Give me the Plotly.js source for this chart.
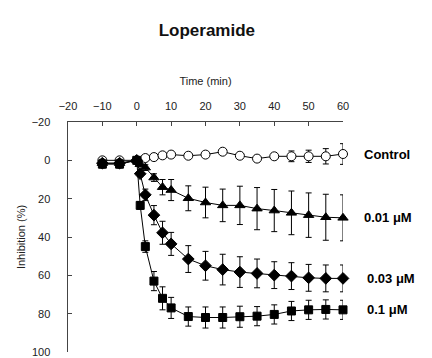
<!DOCTYPE html>
<html>
<head>
<meta charset="utf-8">
<script src="https://cdn.plot.ly/plotly-3.0.1.min.js"></script>
<style>html,body{margin:0;padding:0;background:#fff;}#chart{width:432px;height:358px;}</style>
</head>
<body>
<div id="chart"></div>
<script>
// Time points (min)
const timeControl = [-10, -5, 0, 2.5, 5, 7.5, 10, 15, 20, 25, 30, 35, 40, 45, 50, 55, 60];
const timeDrug    = [-10, -5, 0, 1, 2.5, 5, 7.5, 10, 15, 20, 25, 30, 35, 40, 45, 50, 55, 60];

// Inhibition (%) values
const control     = [0, 0, 0, -1.2, -1.7, -2.6, -3, -2.4, -3, -4.5, -2.4, -0.9, -2.1, -2.1, -2.1, -2.1, -3.3];
const controlErr  = [1.5, 1, 1, 0.8, 0.8, 0.8, 0.8, 0.8, 1, 1, 1, 1, 1.2, 2.8, 3.2, 4, 5.4];

const conc001     = [1.5, 1.5, 0, 2, 3.8, 9, 14, 15.5, 19.8, 22, 23.5, 23.5, 25.2, 26.2, 27.4, 28.6, 29.7, 30];
const conc001Err  = [2, 2, 1, 1.5, 1.5, 2, 4, 5.5, 6.5, 8, 8.5, 10, 11, 11, 11.4, 11.6, 12, 12];

const conc003     = [1.5, 1.5, 0, 7, 18, 28.6, 37.8, 43.6, 51.5, 55, 57, 58.3, 59, 59.9, 60.4, 61.3, 61.6, 61.6];
const conc003Err  = [2, 2, 1, 1.5, 3, 5, 6, 6, 7, 7.5, 8, 8, 7.5, 7, 7, 7, 7, 7];

const conc01      = [2, 2, 0, 23.5, 45, 63, 72, 77, 81.5, 82, 82, 81.6, 81.3, 80.4, 78.6, 78, 77.8, 78];
const conc01Err   = [2, 2, 1, 2, 3, 5, 6, 5.5, 5, 5.5, 5.5, 5.5, 5, 5, 5, 5, 5, 5];

const seriesLabels = ['Control', '0.01 \u03bcM', '0.03 \u03bcM', '0.1 \u03bcM'];

const xTicks = [-20, -10, 0, 10, 20, 30, 40, 50, 60];
const yTicks = [-20, 0, 20, 40, 60, 80, 100];

function trace(x, y, err, symbol, size, fill) {
  return {
    x: x, y: y, type: 'scatter', mode: 'lines+markers',
    line: {color: '#000', width: 1},
    marker: {symbol: symbol, size: size, color: fill, line: {color: '#000', width: 1}},
    error_y: {type: 'data', array: err, visible: true, color: '#000', thickness: 1, width: 3},
    showlegend: false, cliponaxis: false
  };
}

const data = [
  trace(timeControl, control, controlErr, 'circle', 9, '#fff'),
  trace(timeDrug, conc001, conc001Err, 'triangle-up', 9, '#000'),
  trace(timeDrug, conc003, conc003Err, 'diamond', 9, '#000'),
  trace(timeDrug, conc01, conc01Err, 'square', 8, '#000')
];

const lastVals = [control, conc001, conc003, conc01].map(a => a[a.length - 1]);
const annotations = seriesLabels.map((t, i) => ({
  text: t, xref: 'paper', yref: 'y', x: i === 0 || i === 1 ? 1.07 : 1.08, y: lastVals[i],
  xanchor: 'left', yanchor: 'middle', showarrow: false,
  font: {family: 'Liberation Sans, Arial, sans-serif', size: 13, color: '#000', weight: 'bold'}
}));

const layout = {
  width: 432, height: 358,
  margin: {l: 68, r: 89, t: 122, b: 6},
  paper_bgcolor: '#fff', plot_bgcolor: '#fff',
  title: {
    text: 'Loperamide', xref: 'paper', x: 0.505, xanchor: 'center',
    yref: 'container', y: 0.915, yanchor: 'middle',
    font: {family: 'Liberation Sans, Arial, sans-serif', size: 17, color: '#111', weight: 'bold'}
  },
  xaxis: {
    side: 'top', range: [-20, 60], tickvals: xTicks, ticktext: xTicks.map(v => v < 0 ? '\u2212' + Math.abs(v) : String(v)),
    ticks: 'inside', ticklen: 4, tickcolor: '#444', showline: true, linecolor: '#444', linewidth: 1.5,
    showgrid: false, zeroline: false, ticklabelstandoff: 6,
    tickfont: {family: 'Liberation Sans, Arial, sans-serif', size: 11, color: '#222'},
    title: {text: 'Time (min)', standoff: 12, font: {family: 'Liberation Sans, Arial, sans-serif', size: 11, color: '#222'}}
  },
  yaxis: {
    range: [100, -20], tickvals: yTicks, ticktext: yTicks.map(v => v < 0 ? '\u2212' + Math.abs(v) : String(v)),
    ticks: 'inside', ticklen: 4, tickcolor: '#444', showline: true, linecolor: '#444', linewidth: 1.5,
    showgrid: false, zeroline: false, ticklabelstandoff: 14,
    tickfont: {family: 'Liberation Sans, Arial, sans-serif', size: 11, color: '#222'},
    title: {text: 'Inhibition (%)', standoff: 4, font: {family: 'Liberation Sans, Arial, sans-serif', size: 11, color: '#222'}}
  },
  annotations: annotations
};

Plotly.newPlot('chart', data, layout, {staticPlot: true, displayModeBar: false});
</script>
</body>
</html>
